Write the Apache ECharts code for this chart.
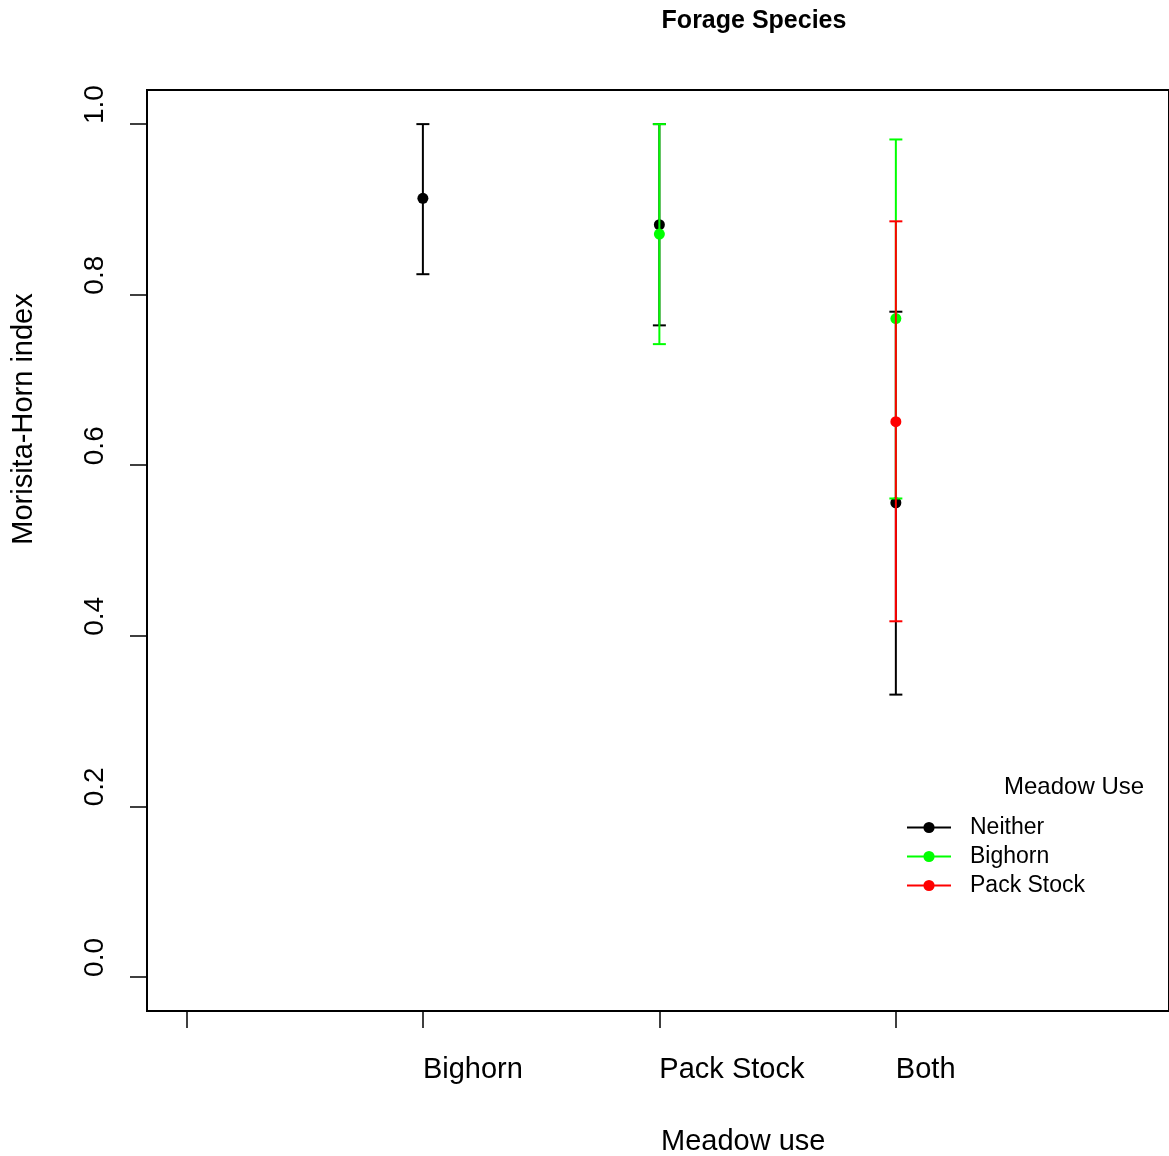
<!DOCTYPE html>
<html>
<head>
<meta charset="utf-8">
<script src="https://cdn.jsdelivr.net/npm/echarts@6/dist/echarts.min.js"></script>
<style>
html,body{margin:0;padding:0;background:#fff;}
#chart{width:1169px;height:1156px;}
</style>
</head>
<body>
<div id="chart"></div>
<script>
// Data
const categories = ['', 'Bighorn', 'Pack Stock', 'Both'];
const categoryPositions = [0, 1, 2, 3];
const yTicks = [0, 0.2, 0.4, 0.6, 0.8, 1.0];

const groupNames = ['Neither', 'Bighorn', 'Pack Stock'];
const groupColors = ['#000000', '#00ff00', '#ff0000'];

const neitherX = [1, 2, 3];
const neitherMean = [0.913, 0.882, 0.556];
const neitherLow = [0.824, 0.764, 0.331];
const neitherHigh = [1.0, 1.0, 0.780];

const bighornX = [2, 3];
const bighornMean = [0.871, 0.772];
const bighornLow = [0.742, 0.561];
const bighornHigh = [1.0, 0.982];

const packX = [3];
const packMean = [0.651];
const packLow = [0.417];
const packHigh = [0.886];

const groups = [
  {x: neitherX, mean: neitherMean, low: neitherLow, high: neitherHigh},
  {x: bighornX, mean: bighornMean, low: bighornLow, high: bighornHigh},
  {x: packX, mean: packMean, low: packLow, high: packHigh}
];

const FONT = '"Liberation Sans", Arial, Helvetica, sans-serif';

const series = [];
groups.forEach((g, gi) => {
  const color = groupColors[gi];
  series.push({
    type: 'custom',
    name: groupNames[gi] + ' error',
    z: 2 + gi * 2,
    data: g.x.map((xv, i) => [xv, g.low[i], g.high[i]]),
    renderItem: function (params, api) {
      const x = api.value(0);
      const lo = api.coord([x, api.value(1)]);
      const hi = api.coord([x, api.value(2)]);
      const hw = 6.5;
      const st = {stroke: color, lineWidth: 2};
      return {
        type: 'group',
        children: [
          {type: 'line', shape: {x1: lo[0], y1: lo[1], x2: hi[0], y2: hi[1]}, style: st},
          {type: 'line', shape: {x1: hi[0] - hw, y1: hi[1], x2: hi[0] + hw, y2: hi[1]}, style: st},
          {type: 'line', shape: {x1: lo[0] - hw, y1: lo[1], x2: lo[0] + hw, y2: lo[1]}, style: st}
        ]
      };
    },
    silent: true
  });
  series.push({
    type: 'line',
    name: groupNames[gi],
    z: 3 + gi * 2,
    data: g.x.map((xv, i) => [xv, g.mean[i]]),
    symbol: 'circle',
    symbolSize: 11,
    showSymbol: true,
    itemStyle: {color: color, opacity: 1},
    lineStyle: {color: color, width: 2, opacity: 0},
    emphasis: {disabled: true}
  });
});

const chart = echarts.init(document.getElementById('chart'), null, {renderer: 'canvas'});
chart.setOption({
  animation: false,
  backgroundColor: '#ffffff',
  grid: {
    left: 147, top: 90, width: 1025, height: 921,
    show: true, borderColor: '#000000', borderWidth: 2, backgroundColor: 'transparent',
    containLabel: false
  },
  xAxis: {
    type: 'value',
    min: -0.1666, max: 4.155,
    splitLine: {show: false},
    axisLine: {show: false, onZero: false},
    axisTick: {show: true, customValues: categoryPositions, length: 17, lineStyle: {color: '#000', width: 1.5}},
    axisLabel: {
      show: true,
      customValues: categoryPositions.slice(1),
      formatter: function (v) { return categories[Math.round(v)]; },
      align: 'left',
      margin: 44,
      fontSize: 29,
      fontFamily: FONT,
      color: '#000'
    }
  },
  yAxis: {
    type: 'value',
    min: -0.04, max: 1.04,
    splitLine: {show: false},
    axisLine: {show: false, onZero: false},
    axisTick: {show: true, customValues: yTicks, length: 17, lineStyle: {color: '#000', width: 1.5}},
    axisLabel: {
      show: true,
      customValues: yTicks,
      rotate: 90,
      align: 'left',
      formatter: function (v) { return v.toFixed(1); },
      margin: 38,
      fontSize: 28,
      fontFamily: FONT,
      color: '#000'
    }
  },
  legend: {
    orient: 'vertical',
    left: 906,
    top: 816,
    padding: 0,
    data: groupNames.map((n, i) => ({name: n, lineStyle: {opacity: 1, width: 2, color: groupColors[i]}})),
    itemWidth: 44,
    itemHeight: 14,
    itemGap: 6,
    selectedMode: false,
    textStyle: {fontSize: 23, fontFamily: FONT, color: '#000', lineHeight: 23, padding: [0, 0, 0, 14]}
  },
  graphic: [
    {type: 'text', x: 754, y: 21, style: {text: 'Forage Species', font: 'bold 25px ' + FONT, fill: '#000', align: 'center', verticalAlign: 'middle'}},
    {type: 'text', x: 661, y: 1142, style: {text: 'Meadow use', font: '29px ' + FONT, fill: '#000', align: 'left', verticalAlign: 'middle'}},
    {type: 'text', x: 24, y: 419, rotation: Math.PI / 2, style: {text: 'Morisita-Horn index', font: '29px ' + FONT, fill: '#000', align: 'center', verticalAlign: 'middle'}},
    {type: 'text', x: 1004, y: 787, style: {text: 'Meadow Use', font: '24px ' + FONT, fill: '#000', align: 'left', verticalAlign: 'middle'}}
  ],
  series: series
});
</script>
</body>
</html>
